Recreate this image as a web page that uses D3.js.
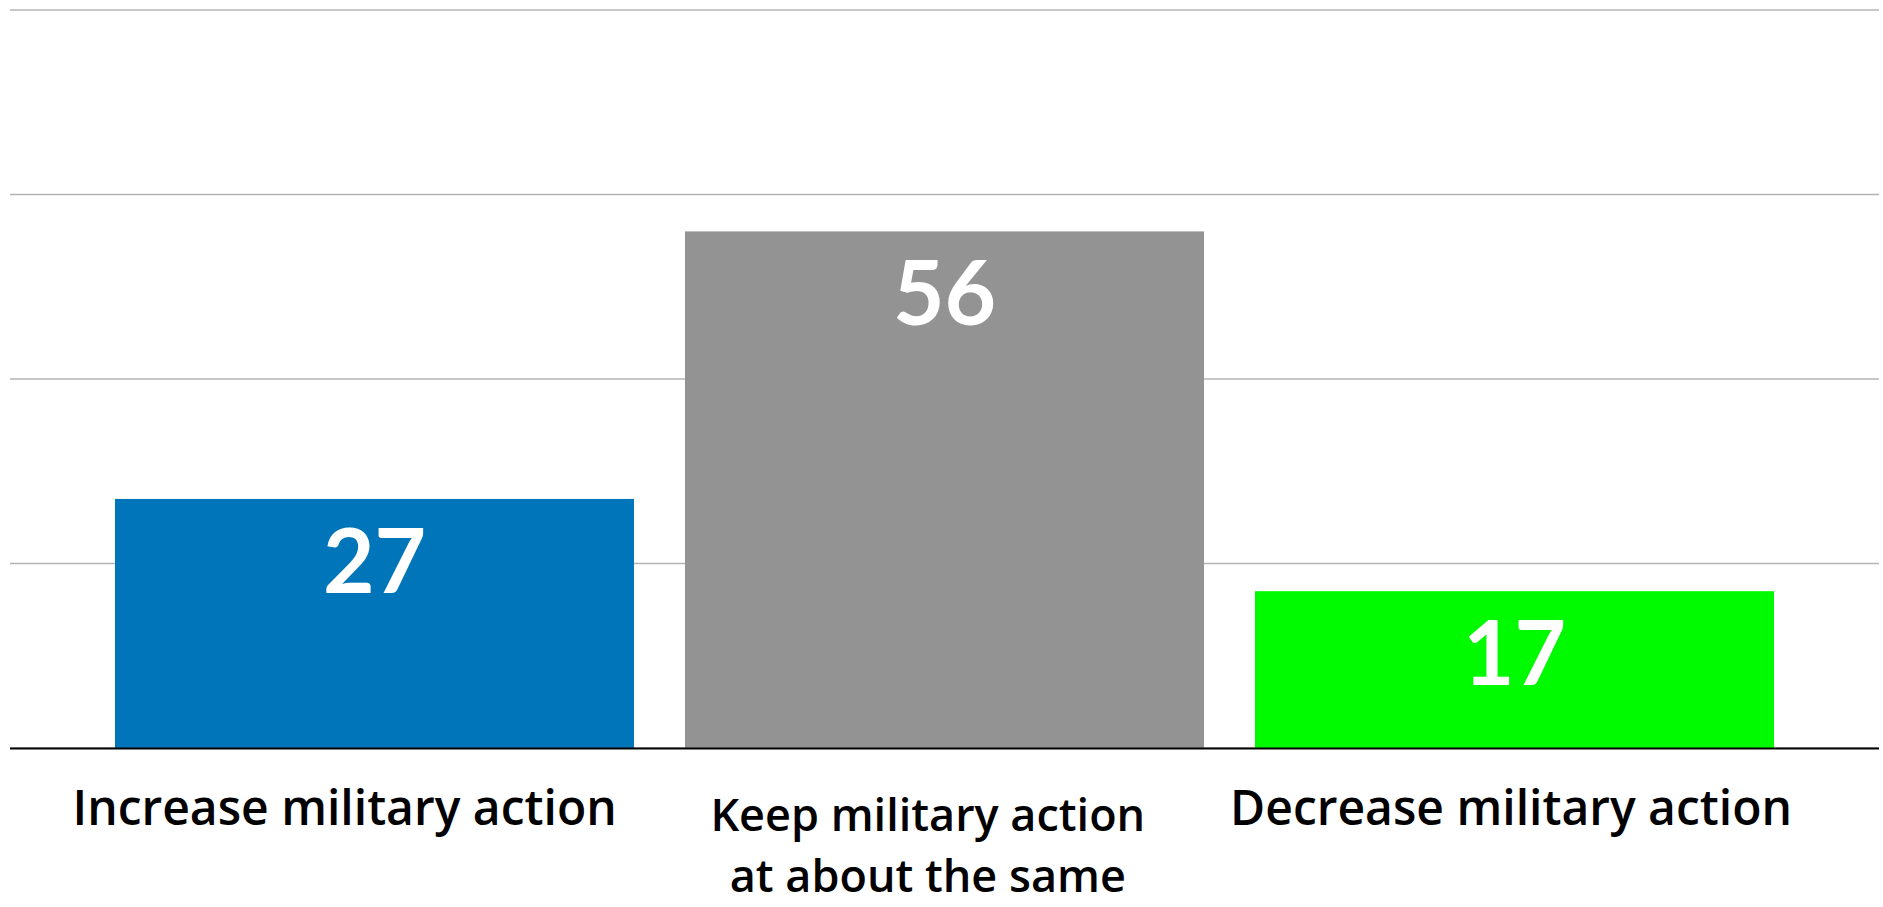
<!DOCTYPE html>
<html>
<head>
<meta charset="utf-8">
<script src="https://cdn.jsdelivr.net/npm/d3@7"></script>
<style>
  html, body { margin: 0; padding: 0; background: #ffffff; }
  svg { display: block; }
</style>
</head>
<body>
<svg id="chart" width="1883" height="907"></svg>
<script>
const categories = ["Increase military action", "Keep military action at about the same", "Decrease military action"];
const labelLines = [["Increase military action"], ["Keep military action", "at about the same"], ["Decrease military action"]];
const values = [27, 56, 17];
const colors = ["#0175B9", "#939393", "#00FA00"];
const yTicks = [0, 20, 40, 60, 80];

const W = 1883, H = 907;
const svg = d3.select("#chart");

const y = d3.scaleLinear().domain([0, 80]).range([748, 10]);
const x = d3.scaleBand().domain(categories).range([89.5, 1799.5])
  .paddingInner(51 / 570).paddingOuter(51 / 1140);
const xLabel = d3.scalePoint().domain(categories).range([344.6, 1511]);

// gridlines
svg.append("g").selectAll("line").data(yTicks).join("line")
  .attr("x1", 10).attr("x2", 1879)
  .attr("y1", d => y(d)).attr("y2", d => y(d))
  .attr("stroke", "#b4b4b4").attr("stroke-width", 1.6);

// bars
svg.append("g").selectAll("rect").data(values).join("rect")
  .attr("x", (d, i) => x(categories[i]))
  .attr("width", x.bandwidth())
  .attr("y", d => y(d))
  .attr("height", d => y(0) - y(d))
  .attr("fill", (d, i) => colors[i]);

// baseline
svg.append("line")
  .attr("x1", 10).attr("x2", 1879)
  .attr("y1", y(0) + 0.5).attr("y2", y(0) + 0.5)
  .attr("stroke", "#000").attr("stroke-width", 2);

// value labels
svg.append("g").selectAll("text").data(values).join("text")
  .attr("x", (d, i) => x(categories[i]) + x.bandwidth() / 2)
  .attr("y", d => y(d) + 94)
  .attr("text-anchor", "middle")
  .attr("fill", "#ffffff")
  .attr("font-family", "Lato, 'Noto Sans', sans-serif")
  .attr("font-weight", 700)
  .attr("font-size", 89)
  .text(d => d);

// category labels
const lg = svg.append("g");
labelLines.forEach((lines, i) => {
  lines.forEach((ln, j) => {
    const multi = lines.length > 1;
    lg.append("text")
      .attr("text-anchor", "middle")
      .attr("fill", "#000")
      .attr("font-family", "'Open Sans', sans-serif")
      .attr("font-weight", 600)
      .attr("font-size", multi ? 45 : 48)
      .attr("x", xLabel(categories[i]))
      .attr("y", (multi ? 831 : 825) + j * 61)
      .text(ln);
  });
});
</script>
</body>
</html>
